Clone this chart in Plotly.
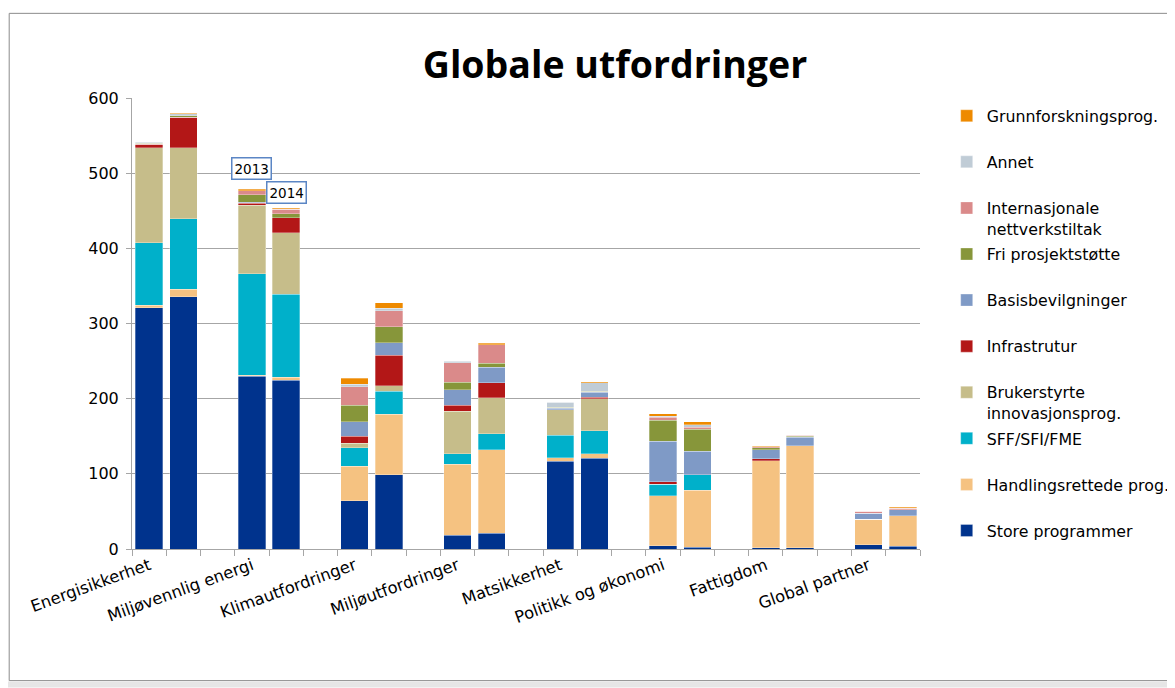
import plotly.graph_objects as go

categories = ["Energisikkerhet", "Miljøvennlig energi", "Klimautfordringer", "Miljøutfordringer",
              "Matsikkerhet", "Politikk og økonomi", "Fattigdom", "Global partner"]
years = ["2013", "2014"]

# values per bar: order = (cat0 2013, cat0 2014, cat1 2013, ...)
store = [321, 335.5, 229.5, 224.5, 64, 98.5, 18.5, 21, 116.5, 120.5, 4, 2.5, 2, 2, 5.5, 3.5]
handl = [3, 10, 1.5, 4, 46, 81, 94.5, 111, 5, 6, 67, 75.5, 115.5, 135.5, 34, 40.5]
sff = [83.5, 94, 135.5, 110.5, 25, 30.5, 14, 21.5, 30, 31, 15, 20.5, 0, 0, 0, 0]
bruker = [126, 94, 90.5, 81.5, 6, 7, 56.5, 48, 34, 42.5, 0, 0, 0, 0, 0, 0]
infra = [5, 41, 3, 20, 9, 40.5, 7.5, 20, 0, 2, 3.5, 0, 2.5, 0, 0, 0]
basis = [0, 0, 1.5, 0, 19, 17, 21, 20.5, 1.5, 6.5, 54, 31.5, 12, 11.5, 8, 8.5]
fri = [1.5, 2, 10, 5.5, 22, 21, 10, 5, 1.5, 1.5, 27.5, 29.5, 2.5, 1, 0, 0]
intern = [0, 0, 5, 6, 25, 21.5, 26, 25, 0, 0, 4, 2.5, 1.5, 1.5, 3, 1.5]
annet = [1, 2.5, 0, 0, 3.5, 3.5, 2, 0, 6.5, 11, 1.5, 3.5, 0, 0, 0, 0]
grunn = [0.5, 0.5, 2, 1.5, 8, 7, 0.5, 1.5, 0.5, 1.5, 3.5, 4, 0.5, 0.5, 0, 1.5]

series_names = ["Store programmer", "Handlingsrettede prog.", "SFF/SFI/FME",
                "Brukerstyrte<br>innovasjonsprog.", "Infrastrutur", "Basisbevilgninger",
                "Fri prosjektstøtte", "Internasjonale<br>nettverkstiltak", "Annet",
                "Grunnforskningsprog."]
series_values = [store, handl, sff, bruker, infra, basis, fri, intern, annet, grunn]
series_colors = ["#00338D", "#F5C281", "#00B0CA", "#C6BD8A", "#B31717", "#7F9AC6",
                 "#87963A", "#DA8A8A", "#C0CCD6", "#EE8A00"]

# slot positions: each category uses 3 slots (2013, 2014, gap)
xpos = []
for g in range(len(categories)):
    for k in range(len(years)):
        xpos.append(3 * g + k)

fig = go.Figure()
for i, (name, vals, col) in enumerate(zip(series_names, series_values, series_colors)):
    label = name if "<br>" in name else name + "<br>\u00a0"
    fig.add_trace(go.Bar(
        x=xpos, y=vals, name=label, width=0.8,
        marker=dict(color=col, line=dict(color="rgba(255,255,255,0.5)", width=0.6)),
        legendgroup=name, legendrank=1000 - i,
    ))

OFF = 8  # page body margin
W, H = 1175 - OFF, 688 - OFF
PL, PR, PT, PB = 132.3 - OFF, 920.3 - OFF, 98.0 - OFF, 549.3 - OFF

def px_x(p):
    return (p - OFF - PL) / (PR - PL)

def px_y(p):
    return (PB - (p - OFF)) / (PB - PT)

font_main = "DejaVu Sans, Verdana, sans-serif"

fig.update_layout(
    width=W, height=H,
    margin=dict(l=PL, r=W - PR, t=PT, b=H - PB, autoexpand=False),
    barmode="stack",
    plot_bgcolor="white", paper_bgcolor="white",
    font=dict(family=font_main, size=15, color="#000000"),
    title=dict(text="<b>Globale utfordringer</b>", x=(615 - OFF) / W, xref="container",
               y=1 - (65 - OFF) / H, yref="container", xanchor="center", yanchor="middle",
               font=dict(family="Open Sans, sans-serif", size=37.5, color="#000000")),
    showlegend=True,
    legend=dict(traceorder="grouped", tracegroupgap=2, valign="top",
                x=px_x(947), xanchor="left", y=px_y(99), yanchor="top",
                font=dict(family=font_main, size=15.8, color="#000000"),
                bgcolor="rgba(0,0,0,0)", itemwidth=30),
    xaxis=dict(
        range=[-0.5, 22.5], showgrid=False, zeroline=False,
        showline=True, linecolor="#A6A6A6", linewidth=1,
        tickmode="array",
        tickvals=[3 * g for g in range(len(categories))],
        ticktext=categories, tickangle=-20, ticks="", ticklen=0,
        tickfont=dict(family=font_main, size=16.3, color="#000000"),
        minor=dict(tickmode="array", tickvals=[k - 0.5 for k in range(24)],
                   ticks="outside", ticklen=6, tickcolor="#A6A6A6", showgrid=False),
    ),
    yaxis=dict(
        range=[0, 600], dtick=100, showgrid=True, gridcolor="#A6A6A6", gridwidth=1,
        zeroline=False, showline=True, linecolor="#A6A6A6", linewidth=1,
        ticks="outside", ticklen=5, tickcolor="#A6A6A6", ticklabelstandoff=4,
        tickfont=dict(family=font_main, size=16, color="#000000"),
    ),
    annotations=[
        dict(x=3, y=506, xref="x", yref="y", text="2013", showarrow=False,
             font=dict(family=font_main, size=13.5, color="#000000"),
             bgcolor="white", bordercolor="#5B86C5", borderwidth=1.5, borderpad=2),
        dict(x=4, y=474, xref="x", yref="y", text="2014", showarrow=False,
             font=dict(family=font_main, size=13.5, color="#000000"),
             bgcolor="white", bordercolor="#5B86C5", borderwidth=1.5, borderpad=2),
    ],
    shapes=[
        dict(type="rect", xref="paper", yref="paper", layer="below",
             x0=px_x(9.5), x1=px_x(1200), y0=px_y(681), y1=px_y(13.3),
             line=dict(color="#8C8C8C", width=1), fillcolor="rgba(0,0,0,0)"),
        dict(type="rect", xref="paper", yref="paper", layer="below",
             x0=px_x(8), x1=px_x(1175), y0=px_y(688), y1=px_y(682),
             line=dict(width=0), fillcolor="#E6E6E6"),
    ],
)

fig.write_html("out.html")
